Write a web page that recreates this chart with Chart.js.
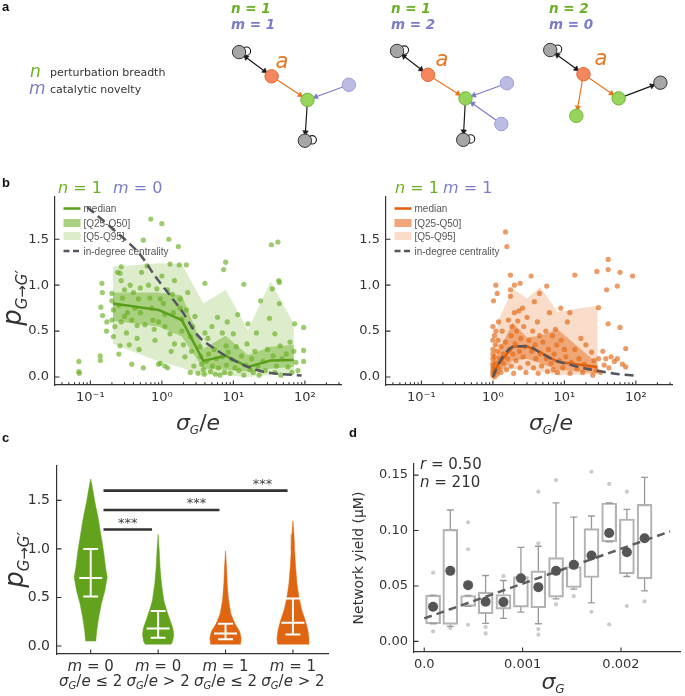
<!DOCTYPE html>
<html><head><meta charset="utf-8">
<script src="https://cdn.jsdelivr.net/npm/chart.js@4.4.1/dist/chart.umd.min.js"></script>
<style>
html,body{margin:0;padding:0;background:#fff;width:685px;height:696px;overflow:hidden}
canvas{position:absolute;display:block}
</style></head><body>
<canvas id="ca" width="685" height="165" style="left:0px;top:0px"></canvas>
<canvas id="cbl" width="345" height="280" style="left:0px;top:165px"></canvas>
<canvas id="cbr" width="340" height="280" style="left:345px;top:165px"></canvas>
<canvas id="cc" width="345" height="246" style="left:0px;top:450px"></canvas>
<canvas id="cd" width="345" height="246" style="left:340px;top:450px"></canvas>
<script>
// ================= DATA =================
// ---- panel a : small example networks (diagram coordinates) ----
const nodeX = [236.7,270,306.7,349,304, 398.3,430,468.3,510.7,505,466, 555,589,625,667.7,581.7];
const nodeY = [49,75.7,101.7,85,146.7, 47.7,74,100,83.3,128.3,145.7, 46.7,73.3,100,82.7,119.3];
const nodeKind = ['g','o','v','p','g', 'g','o','v','p','p','g', 'g','o','v','g','v'];
const edgeFrom = [0,1,3,2, 5,6,8,9,7, 11,12,12,13];
const edgeTo   = [1,2,2,4, 6,7,7,7,10, 12,13,15,14];
const edgeKind = ['k','o','p','k', 'k','o','p','p','k', 'k','o','o','k'];
const edgeBoth = [1,0,0,0, 1,0,0,0,0, 1,0,0,0];
const loopNodes = [0,4,5,10,11];
const netTitleN = ['n = 1','n = 1','n = 2'];
const netTitleM = ['m = 1','m = 2','m = 0'];

// ---- panel b left (n=1, m=0) ----
const binL    = [0.207,0.9,1.9,3.8,7.8,16,33,70];
const medianL = [0.80,0.73,0.62,0.175,0.23,0.11,0.18,0.185];
const darkLoL = [0.61,0.55,0.44,0.09,0.08,0.06,0.09,0.11];
const darkHiL = [0.92,0.92,0.89,0.31,0.45,0.24,0.33,0.35];
const lightLoL= [0.36,0.17,0.10,0.02,0.02,0.0,0.02,0.05];
const lightHiL= [1.20,1.24,1.23,0.80,0.95,0.51,1.04,0.58];
const indegXL = [0.09,0.2,0.5,0.8,1.1,1.9,3.2,5.4,9.2,16,27,46,90];
const indegYL = [1.85,1.62,1.33,1.10,0.96,0.72,0.45,0.31,0.20,0.11,0.055,0.033,0.017];
const ptsL = [[0.069,0.17],[0.069,0.06],[0.07,0.04],[0.137,0.23],[0.138,0.18],[0.145,1.02],[0.147,0.92],[0.14,0.76],[0.148,0.67],[0.17,0.60],[0.168,0.50],
[0.2,0.91],[0.2,0.83],[0.21,0.73],[0.2,0.62],[0.22,0.55],[0.21,0.44],[0.24,1.14],[0.26,1.13],[0.27,1.2],[0.27,1.05],[0.3,0.95],[0.28,0.86],[0.25,0.78],[0.3,0.66],[0.27,0.6],[0.32,0.48],[0.26,0.34],[0.25,0.25],[0.35,0.35],[0.38,0.14],[0.36,1.0],[0.4,0.92],[0.42,0.75],[0.38,0.62],[0.33,0.7],[0.45,0.56],[0.47,0.85],[0.45,0.42],[0.5,0.97],[0.52,1.14],[0.55,1.49],[0.5,0.7],[0.48,0.3],[0.55,0.1],[0.58,0.57],
[0.62,1.21],[0.65,1.0],[0.7,1.72],[0.68,0.86],[0.72,0.75],[0.75,0.62],[0.78,0.52],[0.8,0.4],[0.85,0.96],[0.9,0.14],[0.95,0.15],[1.0,1.67],[1.0,1.1],[1.05,0.8],[1.1,0.68],[1.1,0.55],[1.2,0.95],[1.25,1.5],[1.3,1.23],[1.3,0.47],[1.35,0.28],[1.4,0.9],[1.45,0.7],[1.5,0.36],[1.5,1.05],[1.1,0.12],[1.2,0.1],[0.95,0.85],[0.9,0.6],
[1.7,1.42],[1.75,1.22],[1.8,0.85],[1.9,0.63],[1.9,0.5],[2.0,0.35],[2.1,0.22],[2.2,1.22],[2.3,0.92],[2.5,0.44],[2.6,0.28],[2.7,0.55],[2.8,0.12],[2.5,0.05],[2.2,0.73],[2.9,0.66],[1.8,0.75],
[3.2,0.04],[3.4,0.33],[3.5,0.22],[3.6,0.14],[3.8,0.08],[3.9,0.03],[4.0,1.02],[4.0,0.48],[4.2,0.17],[4.4,0.42],[4.5,0.25],[4.8,0.06],[5.0,0.55],[5.1,0.12],[5.4,0.3],[5.6,0.03],[5.8,0.2],[6.0,0.65],[6.2,0.1],[6.5,0.02],
[7.0,0.48],[7.0,0.22],[7.3,1.17],[7.5,0.05],[7.8,1.25],[7.9,0.34],[8.0,0.13],[8.2,0.6],[8.5,0.27],[9.0,0.04],[9.5,0.19],[10,0.47],[10.5,0.1],[11,0.33],[11.5,0.68],[12,0.07],
[13,0.23],[14,1.01],[14,0.02],[15,0.13],[15.5,0.36],[16,0.58],[17,0.08],[18,0.2],[19,0.05],[20,0.28],[21,0.48],[22,0.12],[23,0.02],[24,0.83],
[26,0.17],[28,0.07],[30,0.3],[32,0.64],[34,1.44],[35,0.96],[36,0.23],[38,0.05],[40,0.12],[42,1.47],[43,1.05],[44,0.8],[45,0.34],[46,0.02],[48,0.2],[38,0.47],[44,1.03],
[55,0.25],[58,0.11],[62,0.38],[66,0.05],[70,0.28],[72,0.58],[75,0.16],[80,0.07],[96,0.54],[96,0.29],[96,0.17]];

// ---- panel b right (n=1, m=1) ----
const binR    = [1.0,1.2,1.9,3.0,4.6,8.0,29];
const medianR = [0.04,0.14,0.33,0.335,0.27,0.165,0.11];
const darkLoR = [0.0,0.04,0.18,0.2,0.15,0.08,0.04];
const darkHiR = [0.15,0.28,0.59,0.43,0.45,0.52,0.15];
const lightLoR= [0.0,0.06,0.09,0.08,0.06,0.02,0.03];
const lightHiR= [0.2,0.62,0.96,0.855,0.98,0.71,0.775];
const indegXR = [1.0,1.24,1.71,2.1,3.08,4.48,6.9,14,26.8,51,97];
const indegYR = [0.0,0.163,0.307,0.336,0.336,0.27,0.19,0.12,0.072,0.036,0.014];
const ptsR = [[1.0,0.02],[1.0,0.05],[1.0,0.08],[1.0,0.12],[1.0,0.15],[1.0,0.2],[1.0,0.25],[1.0,0.3],[1.0,0.4],[1.0,0.55],[1.02,0.83],[1.03,0.1],[1.05,0.0],[1.05,0.45],[1.05,0.22],[1.08,0.35],[1.08,0.06],[1.1,1.0],[1.1,0.5],[1.12,0.15],[1.15,0.91],[1.15,0.28],[1.15,0.03],[1.18,0.4],[1.2,0.6],[1.2,0.1],[1.25,0.2],[1.3,0.05],[1.3,0.33],[1.35,0.5],[1.4,0.15],[1.4,0.25],
[1.5,1.58],[1.57,1.42],[1.5,0.38],[1.55,0.08],[1.6,0.2],[1.65,0.62],[1.7,0.3],[1.76,1.11],[1.76,0.95],[1.76,0.88],[1.8,0.45],[1.8,0.12],[1.85,0.55],[1.9,0.25],[1.95,0.04],[2.0,1.0],[2.0,0.7],[2.05,0.36],[2.1,0.18],[2.15,0.5],[2.23,0.61],[2.3,0.72],[2.35,0.28],[2.4,1.02],[2.4,0.1],[2.45,0.42],
[2.6,0.75],[2.65,0.22],[2.7,0.55],[2.8,0.33],[2.9,0.05],[3.0,0.65],[3.1,0.15],[3.2,0.4],[3.43,1.1],[3.5,0.28],[3.6,0.5],[3.7,0.1],[3.8,0.82],[3.9,0.35],[4.0,0.2],[4.2,0.6],[4.3,0.04],[4.48,0.91],[4.5,0.45],[4.6,0.25],[4.8,0.12],[5.0,0.38],[5.66,0.99],[5.5,0.5],[5.6,0.2],[5.8,0.06],
[6.0,0.3],[6.2,0.7],[6.5,0.15],[6.8,0.45],[7.0,0.08],[7.2,0.25],[7.5,0.52],[7.8,0.35],[8.0,0.05],[8.5,0.18],[8.9,0.75],[9.0,0.4],[9.5,0.1],[10,0.3],[10.5,0.22],[11,0.6],[11.9,0.7],[12,0.04],[12.5,0.16],
[14,1.11],[14,0.3],[15,0.09],[16,0.2],[17,0.42],[18,0.05],[19,0.14],[20,0.35],[22,0.1],[24,0.27],[25,0.02],[26,0.18],[28,0.07],[28.5,1.15],[30,0.755],[30,0.2],
[32,0.05],[34.5,0.28],[36,0.13],[38,0.2],[39,0.95],[41,1.28],[41,1.17],[41,0.58],[42,0.1],[45,0.22],[50,0.17],[55,0.99],[55,0.2],[60,1.14],[60,0.54],[65,0.14],[72,0.31],[72,0.11],[90,1.10]];

// ---- panel c : violins ----
const violinLevels = [
 [1.72,1.65,1.49,1.32,1.15,0.98,0.81,0.71,0.57,0.44,0.30,0.16,0.05],
 [1.15,1.0,0.8,0.64,0.47,0.37,0.27,0.18,0.11,0.044,0.017],
 [0.98,0.81,0.64,0.47,0.33,0.23,0.15,0.08,0.017],
 [1.29,1.15,0.98,0.81,0.64,0.5,0.37,0.27,0.16,0.08,0.017]];
const violinHalfWidth = [
 [0,0.02,0.06,0.11,0.15,0.19,0.22,0.245,0.21,0.16,0.12,0.09,0.075],
 [0,0.015,0.03,0.05,0.085,0.125,0.175,0.22,0.232,0.213,0.19],
 [0,0.015,0.025,0.045,0.08,0.14,0.21,0.232,0.222],
 [0,0.015,0.025,0.04,0.06,0.09,0.13,0.18,0.222,0.237,0.227]];
const violinLow = [0.51,0.085,0.07,0.12];
const violinMed = [0.70,0.18,0.13,0.24];
const violinHigh= [1.00,0.36,0.23,0.49];
const violinM   = ['0','0','1','1'];
const violinCond= ['≤ 2','> 2','≤ 2','> 2'];
const sigFrom = [0.19,0.19,0.19];
const sigTo   = [0.91,1.91,2.92];
const sigY    = [1.2,1.4,1.6];
const sigStarX= [0.55,1.57,2.55];
const sigStarY= [1.30,1.50,1.70];
const sigText = ['***','***','***'];

// ---- panel d : box plots ----
const boxX   = [0.00009,0.000265,0.000446,0.000624,0.000805,0.000983,0.00116,0.00134,0.00152,0.0017,0.00188,0.00206,0.00224];
const boxLo  = [0.0159,0.0153,0.0315,0.0249,0.0291,0.0309,0.0303,0.0399,0.0486,0.0576,0.0897,0.0609,0.0564];
const boxHi  = [0.0417,0.101,0.0414,0.0444,0.0423,0.0585,0.0636,0.0756,0.0675,0.1017,0.1248,0.1104,0.1236];
const whLo   = [0.0159,0.0135,0.0315,0.0162,0.0207,0.0264,0.0159,0.0384,0.0471,0.0348,0.0897,0.0585,0.0456];
const whHi   = [0.0417,0.1185,0.0414,0.0594,0.0549,0.0847,0.0858,0.125,0.112,0.1131,0.1248,0.1191,0.148];
const boxMean= [0.0312,0.0636,0.0507,0.0357,0.0354,0.057,0.0489,0.0636,0.069,0.0774,0.0978,0.0804,0.093];
const outX = [0.00009,0.00009,0.000265,0.000446,0.000446,0.000446,0.000624,0.000624,0.000805,0.00116,0.00116,0.00116,0.00116,0.00134,0.00134,0.00152,0.0017,0.0017,0.00188,0.00188,0.00206,0.00206,0.00224];
const outY = [0.062,0.009,0.012,0.1074,0.0831,0.015,0.0129,0.0072,0.0588,0.135,0.0885,0.0111,0.006,0.1455,0.0333,0.0408,0.153,0.0267,0.142,0.0153,0.135,0.0318,0.036];
const regX = [0,0.0025];
const regY = [0.0207,0.0992];

// ================= HELPERS =================
Chart.defaults.font.family = '"DejaVu Sans", sans-serif';
Chart.defaults.color = '#333';
const GREEN_T = '#6ab023', PURPLE_T = '#7b7bc8';
const FONT = '"DejaVu Sans"';
function rgba(c,a){return 'rgba('+c[0]+','+c[1]+','+c[2]+','+a+')';}
function fnt(p){return (p.i?'italic ':'')+(p.b?'bold ':'')+(p.s||12)+'px '+(p.f||FONT);}
function rich(ctx,x,y,parts,align,rot){
  ctx.save(); ctx.translate(x,y); if(rot) ctx.rotate(rot);
  ctx.textBaseline='alphabetic'; ctx.textAlign='left';
  const w=parts.map(p=>{ctx.font=fnt(p);return ctx.measureText(p.t).width;});
  const tot=w.reduce((a,b)=>a+b,0);
  let cx= align==='center'?-tot/2:(align==='right'?-tot:0);
  parts.forEach((p,i)=>{ctx.font=fnt(p);ctx.fillStyle=p.c||'#333';ctx.fillText(p.t,cx,p.dy||0);cx+=w[i];});
  ctx.restore();
}
function inTicks(chart,xv,yv,xminor,len){
  const ctx=chart.ctx, ca=chart.chartArea, xs=chart.scales.x, ys=chart.scales.y;
  ctx.save(); ctx.strokeStyle='#333'; ctx.lineWidth=1.1; ctx.beginPath();
  xv.forEach(v=>{const p=xs.getPixelForValue(v); ctx.moveTo(p,ca.bottom); ctx.lineTo(p,ca.bottom-len);});
  (xminor||[]).forEach(v=>{const p=xs.getPixelForValue(v); ctx.moveTo(p,ca.bottom); ctx.lineTo(p,ca.bottom-len*0.6);});
  yv.forEach(v=>{const p=ys.getPixelForValue(v); ctx.moveTo(ca.left,p); ctx.lineTo(ca.left+len,p);});
  ctx.stroke(); ctx.restore();
}
function xy(xs,ys){return xs.map((x,i)=>({x:x,y:ys[i]}));}
function band(xs,lo,hi){return xs.map((x,i)=>({x:x,y:hi[i]})).concat(xs.map((x,i)=>({x:x,y:lo[i]})).reverse());}
function panelLabel(ctx,t,x,y){ctx.save();ctx.font='bold 13px "Liberation Sans"';ctx.fillStyle='#111';ctx.textBaseline='alphabetic';ctx.fillText(t,x,y);ctx.restore();}
const baseOpts = {responsive:false,animation:false,events:[],plugins:{legend:{display:false},tooltip:{enabled:false}}};
const axisBorder = {display:true,color:'#333',width:1.2};

// ================= PANEL A =================
(function(){
  const fill={g:'#a6a6a6',o:'#f4875e',v:'#97d55a',p:'#bcbce3'};
  const bord={g:'#333333',o:'#e0652f',v:'#6db33c',p:'#9a9ad4'};
  const ecol={k:'#1a1a1a',o:'#e8741e',p:'#7b7bc8'};
  const R=6.7;
  const datasets=[];
  ['g','o','v','p'].forEach(k=>{
    const pts=[]; nodeKind.forEach((kk,i)=>{if(kk===k) pts.push({x:nodeX[i],y:nodeY[i]});});
    datasets.push({type:'scatter',data:pts,pointRadius:R,backgroundColor:fill[k],borderColor:bord[k],borderWidth:1,order:0});
  });
  ['k','o','p'].forEach(k=>{
    const seg=[], heads=[], rots=[];
    edgeFrom.forEach((f,i)=>{
      if(edgeKind[i]!==k) return;
      const t=edgeTo[i];
      const dx=nodeX[t]-nodeX[f], dy=nodeY[t]-nodeY[f], L=Math.hypot(dx,dy), ux=dx/L, uy=dy/L;
      seg.push({x:nodeX[f]+ux*R,y:nodeY[f]+uy*R},{x:nodeX[t]-ux*(R+2),y:nodeY[t]-uy*(R+2)},{x:nodeX[t],y:null});
      heads.push({x:nodeX[t]-ux*(R+2.5),y:nodeY[t]-uy*(R+2.5)}); rots.push(Math.atan2(dx,-dy)*180/Math.PI);
      if(edgeBoth[i]){heads.push({x:nodeX[f]+ux*(R+2.5),y:nodeY[f]+uy*(R+2.5)}); rots.push(Math.atan2(-dx,dy)*180/Math.PI);}
    });
    datasets.push({type:'line',data:seg,borderColor:ecol[k],borderWidth:1.2,pointRadius:0,fill:false,order:2});
    datasets.push({type:'scatter',data:heads,pointStyle:'triangle',pointRadius:3.2,pointRotation:rots,backgroundColor:ecol[k],borderColor:ecol[k],borderWidth:0.5,order:1});
  });
  datasets.push({type:'scatter',data:loopNodes.map(i=>({x:nodeX[i]+7.5,y:nodeY[i]-1})),pointRadius:4.2,backgroundColor:'rgba(0,0,0,0)',borderColor:'#1a1a1a',borderWidth:1.1,order:3});
  new Chart(document.getElementById('ca'),{type:'scatter',data:{datasets},
    options:Object.assign({},baseOpts,{layout:{padding:0},
      scales:{x:{type:'linear',display:false,min:0,max:685},y:{type:'linear',display:false,min:0,max:165,reverse:true}}}),
    plugins:[{id:'aTxt',afterDraw(ch){
      const c=ch.ctx;
      panelLabel(c,'a',2,11);
      rich(c,30,77,[{t:'n',i:1,s:17,c:GREEN_T}]);
      rich(c,50,76,[{t:'perturbation breadth',s:11,c:'#333'}]);
      rich(c,29,94,[{t:'m',i:1,s:17,c:PURPLE_T}]);
      rich(c,50,93,[{t:'catalytic novelty',s:11,c:'#333'}]);
      const tx=[231,391,549];
      tx.forEach((x,i)=>{
        rich(c,x,13,[{t:netTitleN[i],i:1,b:1,s:13.5,c:GREEN_T}]);
        rich(c,x,29,[{t:netTitleM[i],i:1,b:1,s:13.5,c:PURPLE_T}]);
      });
      nodeKind.forEach((k,i)=>{ if(k==='o') rich(c,nodeX[i]+12,nodeY[i]-8,[{t:'a',i:1,s:21,c:'#e8741e'}],'center'); });
    }}]
  });
})();

// ================= PANEL B =================
const logTicks=[0.1,1,10,100];
const logLab={0.1:'10⁻¹',1:'10⁰',10:'10¹',100:'10²'};
const minorLog=[]; for(let e=-2;e<=2;e++) for(let k=2;k<=9;k++){const v=k*Math.pow(10,e); if(v>0.032&&v<320) minorLog.push(v);}
function makeB(id,pts,bins,med,dLo,dHi,lLo,lHi,ix,iy,col,medCol,yW,padR,drawTxt){
  new Chart(document.getElementById(id),{type:'scatter',
    data:{datasets:[
      {type:'line',data:xy(ix,iy),borderColor:'#55555f',borderWidth:2.5,borderDash:[9,5],pointRadius:0,fill:false,cubicInterpolationMode:'monotone',order:1},
      {type:'line',data:xy(bins,med),borderColor:medCol,borderWidth:2.5,pointRadius:0,fill:false,order:2},
      {type:'scatter',data:pts.map(p=>({x:p[0],y:p[1]})),pointRadius:2.6,backgroundColor:rgba(col,0.66),borderWidth:0,order:3},
      {type:'line',data:band(bins,dLo,dHi),borderWidth:0,borderColor:'rgba(0,0,0,0)',pointRadius:0,fill:'shape',backgroundColor:rgba(col,0.45),order:4},
      {type:'line',data:band(bins,lLo,lHi),borderWidth:0,borderColor:'rgba(0,0,0,0)',pointRadius:0,fill:'shape',backgroundColor:rgba(col,0.23),order:5}
    ]},
    options:Object.assign({},baseOpts,{layout:{padding:{left:0,top:32,right:padR,bottom:0}},
      scales:{
        x:{type:'logarithmic',min:0.032,max:320,grid:{display:false,drawTicks:false},border:axisBorder,
           ticks:{autoSkip:false,maxRotation:0,padding:5,font:{size:13},color:'#333',callback:v=>logLab[v]||''},
           afterBuildTicks:s=>{s.ticks=logTicks.map(v=>({value:v}));},afterFit:s=>{s.height=60;}},
        y:{type:'linear',min:-0.087,max:1.96,grid:{display:false,drawTicks:false},border:axisBorder,
           ticks:{padding:6,font:{size:13},color:'#333',callback:v=>v.toFixed(1)},
           afterBuildTicks:s=>{s.ticks=[0,0.5,1,1.5].map(v=>({value:v}));},afterFit:s=>{s.width=yW;}}
      }}),
    plugins:[{id:'bTxt',afterDraw(ch){
      inTicks(ch,logTicks,[0,0.5,1,1.5],minorLog,4.5);
      const c=ch.ctx, L=ch.chartArea.left+8.5;
      c.save();
      c.strokeStyle=medCol;c.lineWidth=2.5;c.beginPath();c.moveTo(L,43.5);c.lineTo(L+17,43.5);c.stroke();
      c.fillStyle=rgba(col,0.58);c.fillRect(L,54,17,8);
      c.fillStyle=rgba(col,0.23);c.fillRect(L,67,17,8);
      c.strokeStyle='#55555f';c.setLineDash([6,3.5]);c.beginPath();c.moveTo(L,86);c.lineTo(L+18,86);c.stroke();
      c.restore();
      const lf={s:10,f:'"Liberation Sans"',c:'#555'};
      rich(c,L+20,47,[Object.assign({t:'median'},lf)]);
      rich(c,L+20,62,[Object.assign({t:'[Q25-Q50]'},lf)]);
      rich(c,L+20,75,[Object.assign({t:'[Q5-Q95]'},lf)]);
      rich(c,L+20,90,[Object.assign({t:'in-degree centrality'},lf)]);
      drawTxt(c,ch);
    }}]
  });
}
makeB('cbl',ptsL,binL,medianL,darkLoL,darkHiL,lightLoL,lightHiL,indegXL,indegYL,[106,176,35],'#5a9f1c',55,2,(c,ch)=>{
  panelLabel(c,'b',2,22);
  rich(c,58,28,[{t:'n',i:1,s:16,c:GREEN_T},{t:' = 1',s:16,c:GREEN_T}]);
  rich(c,113,28,[{t:'m',i:1,s:16,c:PURPLE_T},{t:' = 0',s:16,c:PURPLE_T}]);
  rich(c,198,265,[{t:'σ',i:1,s:22},{t:'G',i:1,s:12,dy:4},{t:'/',s:22},{t:'e',i:1,s:22}],'center');
  rich(c,21,133,[{t:'p',i:1,s:26},{t:'G',i:1,s:15,dy:6},{t:'→',s:15,dy:6},{t:'G′',i:1,s:15,dy:6}],'center',-Math.PI/2);
  panelLabel(c,'c',2,277);
});
makeB('cbr',ptsR,binR,medianR,darkLoR,darkHiR,lightLoR,lightHiR,indegXR,indegYR,[227,103,20],'#de5f0c',41,13,(c,ch)=>{
  rich(c,50,28,[{t:'n',i:1,s:16,c:GREEN_T},{t:' = 1',s:16,c:GREEN_T}]);
  rich(c,98,28,[{t:'m',i:1,s:16,c:PURPLE_T},{t:' = 1',s:16,c:PURPLE_T}]);
  rich(c,206,265,[{t:'σ',i:1,s:22},{t:'G',i:1,s:12,dy:4},{t:'/',s:22},{t:'e',i:1,s:22}],'center');
  panelLabel(c,'d',4,272);
});

// ================= PANEL C =================
(function(){
  const vcol=['#62a21c','#62a21c','#df6510','#df6510'];
  const datasets=[];
  const sig=[]; sigFrom.forEach((f,i)=>{sig.push({x:f,y:sigY[i]},{x:sigTo[i],y:sigY[i]},{x:sigTo[i],y:null});});
  datasets.push({type:'line',data:sig,borderColor:'#333',borderWidth:2.6,pointRadius:0,fill:false,order:0});
  const inner=[]; const capHW=0.11, medHW=0.17;
  violinLow.forEach((lo,i)=>{
    inner.push({x:i,y:lo},{x:i,y:violinHigh[i]},{x:i,y:null});
    inner.push({x:i-capHW,y:lo},{x:i+capHW,y:lo},{x:i,y:null});
    inner.push({x:i-capHW,y:violinHigh[i]},{x:i+capHW,y:violinHigh[i]},{x:i,y:null});
    inner.push({x:i-medHW,y:violinMed[i]},{x:i+medHW,y:violinMed[i]},{x:i,y:null});
  });
  datasets.push({type:'line',data:inner,borderColor:'#ffffff',borderWidth:2,pointRadius:0,fill:false,order:1});
  violinLevels.forEach((lv,i)=>{
    const hw=violinHalfWidth[i];
    const right=lv.map((y,j)=>({x:i+hw[j],y:y})).reverse();
    const left=lv.map((y,j)=>({x:i-hw[j],y:y}));
    datasets.push({type:'line',data:right.concat(left),borderColor:vcol[i],borderWidth:0.5,pointRadius:0,fill:'shape',backgroundColor:vcol[i],order:2});
  });
  new Chart(document.getElementById('cc'),{type:'scatter',data:{datasets},
    options:Object.assign({},baseOpts,{layout:{padding:{left:0,top:14,right:17,bottom:0}},
      scales:{
        x:{type:'linear',min:-0.5,max:3.52,grid:{display:false,drawTicks:false},border:axisBorder,ticks:{display:false},afterFit:s=>{s.height=42;}},
        y:{type:'linear',min:-0.082,max:1.86,grid:{display:false,drawTicks:false},border:axisBorder,
           ticks:{padding:7,font:{size:14},color:'#333',callback:v=>v.toFixed(1)},
           afterBuildTicks:s=>{s.ticks=[0,0.5,1,1.5].map(v=>({value:v}));},afterFit:s=>{s.width=57;}}
      }}),
    plugins:[{id:'cTxt',afterDraw(ch){
      inTicks(ch,[0,1,2,3],[0,0.5,1,1.5],null,4.5);
      const c=ch.ctx, xs=ch.scales.x, ys=ch.scales.y;
      sigText.forEach((t,i)=>rich(c,xs.getPixelForValue(sigStarX[i]),ys.getPixelForValue(sigStarY[i])+7,[{t:t,s:13,c:'#444'}],'center'));
      violinM.forEach((m,i)=>{
        const px=xs.getPixelForValue(i);
        rich(c,px,221,[{t:'m',i:1,s:15},{t:' = '+m,s:15}],'center');
        rich(c,px,236,[{t:'σ',i:1,s:15},{t:'G',i:1,s:10,dy:3},{t:'/',s:15},{t:'e',i:1,s:15},{t:' '+violinCond[i],s:15}],'center');
      });
      rich(c,23,110,[{t:'p',i:1,s:26},{t:'G',i:1,s:15,dy:6},{t:'→',s:15,dy:6},{t:'G′',i:1,s:15,dy:6}],'center',-Math.PI/2);
    }}]
  });
})();

// ================= PANEL D =================
(function(){
  const capHW=0.000035;
  const wh=[];
  boxX.forEach((x,i)=>{
    wh.push({x:x,y:whHi[i]},{x:x,y:boxHi[i]},{x:x,y:null});
    wh.push({x:x,y:boxLo[i]},{x:x,y:whLo[i]},{x:x,y:null});
    wh.push({x:x-capHW,y:whHi[i]},{x:x+capHW,y:whHi[i]},{x:x,y:null});
    wh.push({x:x-capHW,y:whLo[i]},{x:x+capHW,y:whLo[i]},{x:x,y:null});
  });
  const datasets=[
    {type:'scatter',data:xy(boxX,boxMean),pointRadius:5,backgroundColor:'#555',borderWidth:0,order:0},
    {type:'line',data:xy(regX,regY),borderColor:'#5f5f5f',borderWidth:2.5,borderDash:[8,5],pointRadius:0,fill:false,order:1},
    {type:'line',data:wh,borderColor:'#999',borderWidth:1.3,pointRadius:0,fill:false,order:2},
    {type:'bar',data:boxX.map((x,i)=>({x:x,y:[boxLo[i],boxHi[i]]})),barThickness:15,borderSkipped:false,borderColor:'#b3b3b3',borderWidth:1.5,backgroundColor:'rgba(255,255,255,0)',order:3},
    {type:'scatter',data:xy(outX,outY),pointRadius:2.1,backgroundColor:'rgba(185,185,185,0.75)',borderWidth:0,order:4}
  ];
  new Chart(document.getElementById('cd'),{type:'scatter',data:{datasets},
    options:Object.assign({},baseOpts,{layout:{padding:{left:0,top:14,right:2,bottom:0}},
      scales:{
        x:{type:'linear',offset:false,min:-0.000104,max:0.0026,grid:{display:false,drawTicks:false,offset:false},border:axisBorder,
           ticks:{autoSkip:false,maxRotation:0,padding:5,font:{size:13},color:'#333',callback:v=>({0:'0.0',0.001:'0.001',0.002:'0.002'})[v]},
           afterBuildTicks:s=>{s.ticks=[0,0.001,0.002].map(v=>({value:v}));},afterFit:s=>{s.height=44;}},
        y:{type:'linear',min:-0.0096,max:0.160,beginAtZero:false,grid:{display:false,drawTicks:false},border:axisBorder,
           ticks:{padding:6,font:{size:13},color:'#333',callback:v=>v.toFixed(2)},
           afterBuildTicks:s=>{s.ticks=[0,0.05,0.1,0.15].map(v=>({value:v}));},afterFit:s=>{s.width=74;}}
      }}),
    plugins:[{id:'dTxt',afterDraw(ch){
      inTicks(ch,[0,0.001,0.002],[0,0.05,0.1,0.15],null,4.5);
      const c=ch.ctx;
      rich(c,80,19,[{t:'r',i:1,s:15},{t:' = 0.50',s:15}]);
      rich(c,80,37,[{t:'n',i:1,s:15},{t:' = 210',s:15}]);
      rich(c,23,108,[{t:'Network yield (µM)',s:14,c:'#333'}],'center',-Math.PI/2);
      rich(c,213,239,[{t:'σ',i:1,s:22},{t:'G',i:1,s:12,dy:4}],'center');
    }}]
  });
})();
</script></body></html>
